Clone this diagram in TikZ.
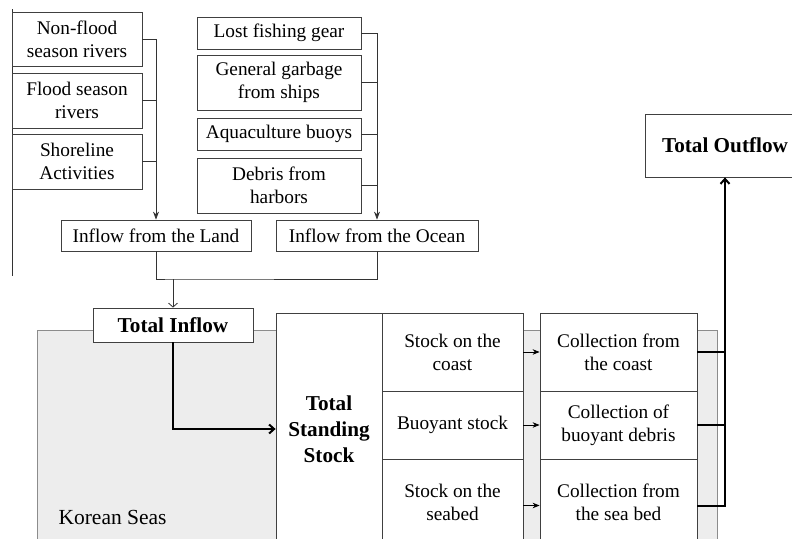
\documentclass[tikz,border=0pt]{standalone}
\usepackage{fontspec}
\setmainfont{Liberation Serif}
\usetikzlibrary{arrows.meta}
\begin{document}
\begin{tikzpicture}[x=1pt,y=-1pt,
  box/.style={draw=black!75,fill=white,line width=0.8pt,inner sep=0pt,align=center,
    font=\fontsize{19.3}{23}\selectfont},
  boldbox/.style={box,font=\fontsize{21.2}{26}\selectfont\bfseries},
  thin/.style={draw=black!80,line width=0.8pt},
  thinarrow/.style={thin,-{Stealth[length=8pt,width=6pt]}},
  openarrow/.style={thin,-{Straight Barb[length=4pt,width=9pt]}},
  smallarrow/.style={draw=black,line width=0.8pt,-{Stealth[length=7pt,width=5.5pt]}},
  thickline/.style={draw=black,line width=2pt},
  thickarrow/.style={thickline,-{Straight Barb[length=5pt,width=9pt]}}]
\useasboundingbox (0,0) rectangle (792,538);
\clip (0,0) rectangle (792,538);
% grey sea region
\fill[black!7] (37,330) rectangle (717,545);
\draw[black!45,line width=0.8pt] (37,545) -- (37,330) -- (717,330) -- (717,545);
\node[anchor=west,font=\fontsize{21.5}{26}\selectfont] (ks) at (55,517) {Korean Seas};
% left vertical line
\draw[thin] (12,9) -- (12,276);
% land sources
\node[box,minimum width=130,minimum height=54] (nf) at (77,39) {Non-flood\\season rivers};
\node[box,minimum width=130,minimum height=55] (fs) at (77,100.5) {Flood season\\rivers};
\node[box,minimum width=130,minimum height=55] (sl) at (77,161.5) {Shoreline\\Activities};
% ocean sources
\node[box,minimum width=164,minimum height=32] (lfg) at (279,33) {Lost fishing gear};
\node[box,minimum width=164,minimum height=55] (ggs) at (279,82.5) {General garbage\\from ships};
\node[box,minimum width=164,minimum height=32] (aqb) at (279,134) {Aquaculture buoys};
\node[box,minimum width=164,minimum height=55] (dfh) at (279,185.5) {Debris from\\harbors};
% inflows
\node[box,minimum width=190,minimum height=31] (land) at (156,235.5) {Inflow from the Land};
\node[box,minimum width=202,minimum height=31] (ocean) at (377,235.5) {Inflow from the Ocean};
\node[boldbox,minimum width=160,minimum height=34] (tin) at (173,325) {Total Inflow};
% stock
\node[boldbox,minimum width=106,minimum height=232] (tss) at (329,429) {Total\\Standing\\Stock};
\node[box,minimum width=141,minimum height=78] (s1) at (452.5,352) {Stock on the\\coast};
\node[box,minimum width=141,minimum height=68] (s2) at (452.5,425) {Buoyant stock};
\node[box,minimum width=141,minimum height=86] (s3) at (452.5,502) {Stock on the\\seabed};
% collection
\node[box,minimum width=157,minimum height=78] (c1) at (618.5,352) {Collection from\\the coast};
\node[box,minimum width=157,minimum height=68] (c2) at (618.5,425) {Collection of\\buoyant debris};
\node[box,minimum width=157,minimum height=86] (c3) at (618.5,502) {Collection from\\the sea bed};
% outflow
\node[boldbox,minimum width=160,minimum height=63] (tout) at (725,145.5) {Total Outflow};
% land connectors
\draw[thinarrow] (nf.east) -| (land.north);
\draw[thin] (fs.east) -- (fs.east -| land.north);
\draw[thin] (sl.east) -- (sl.east -| land.north);
% ocean connectors
\draw[thinarrow] (lfg.east) -| (ocean.north);
\draw[thin] (ggs.east) -- (ggs.east -| ocean.north);
\draw[thin] (aqb.east) -- (aqb.east -| ocean.north);
\draw[thin] (dfh.east) -- (dfh.east -| ocean.north);
% merge
\coordinate (m) at (173,279);
\draw[thin] (land.south) |- (m) -| (ocean.south);
\draw[openarrow] (m) -- (tin.north);
% to stock
\draw[thickarrow] (tin.south) |- (tss.west);
% stock to collection
\draw[smallarrow] (s1.east) -- (c1.west);
\draw[smallarrow] (s2.east) -- (c2.west);
\draw[smallarrow] ([yshift=-3.5pt]s3.east) -- ([yshift=-3.5pt]c3.west);
% outflow
\draw[thickline] (c1.east) -- (c1.east -| tout.south);
\draw[thickline] (c2.east) -- (c2.east -| tout.south);
\draw[thickarrow] ([yshift=-3.5pt]c3.east) -| (tout.south);
\end{tikzpicture}
\end{document}
